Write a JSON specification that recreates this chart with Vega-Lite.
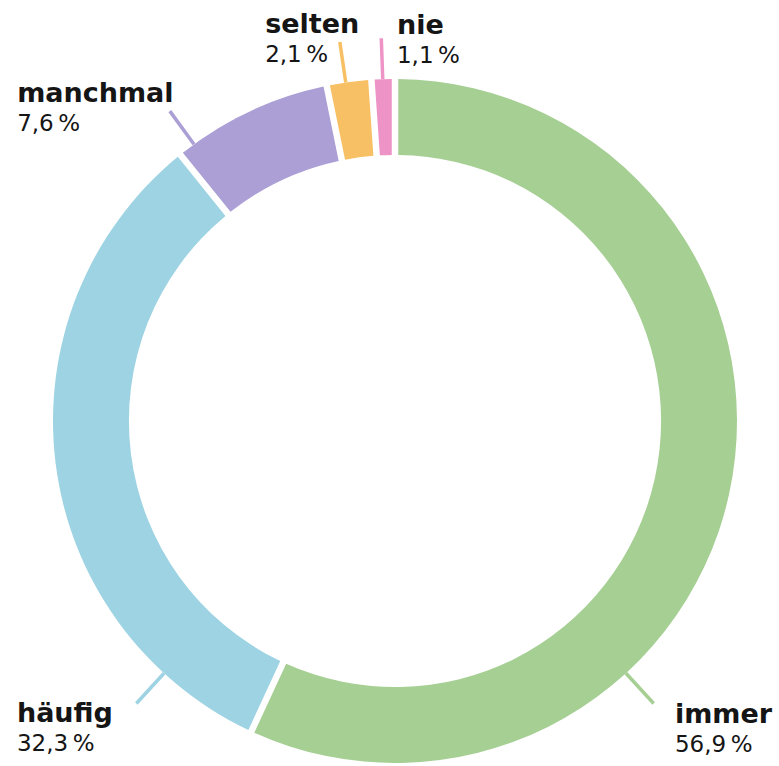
{
  "$schema": "https://vega.github.io/schema/vega-lite/v6.json",
  "width": 770,
  "height": 684,
  "autosize": {"type": "none"},
  "padding": {"left": 10, "top": 79, "right": 0, "bottom": 3},
  "background": "white",
  "config": {"view": {"stroke": null}},
  "data": {
    "values": [
      {"answer": "immer", "pct": 56.9, "idx": 1, "share": "56,9\u202f%", "at": 38.2, "lab_at": 38.1, "lab_r": 1.204},
      {"answer": "häufig", "pct": 32.3, "idx": 2, "share": "32,3\u202f%", "at": 61.8, "lab_at": 64.3, "lab_r": 1.413},
      {"answer": "manchmal", "pct": 7.6, "idx": 3, "share": "7,6\u202f%", "at": 90.0, "lab_at": 86.16, "lab_r": 1.446},
      {"answer": "selten", "pct": 2.1, "idx": 4, "share": "2,1\u202f%", "at": 97.7, "lab_at": 94.86, "lab_r": 1.1965},
      {"answer": "nie", "pct": 1.1, "idx": 5, "share": "1,1\u202f%", "at": 99.43, "lab_at": 0.08, "lab_r": 1.1316}
    ]
  },
  "layer": [
    {
      "mark": {"type": "arc", "padAngle": 0.015},
      "encoding": {
        "theta": {"field": "pct", "type": "quantitative", "stack": true, "scale": {"domain": [0, 100]}},
        "order": {"field": "idx", "type": "quantitative", "sort": "ascending"},
        "color": {
          "field": "answer", "type": "nominal", "legend": null,
          "scale": {"domain": ["immer", "häufig", "manchmal", "selten", "nie"], "range": ["#a6cf94", "#9dd3e3", "#ab9fd5", "#f8c064", "#ee93c6"]}
        },
        "radius": {"datum": 1, "type": "quantitative", "scale": {"type": "linear", "domain": [0, 1], "range": [0, 342]}},
        "radius2": {"datum": 0.778}
      }
    },
    {
      "mark": {"type": "arc", "filled": false, "strokeWidth": 3.5},
      "encoding": {
        "theta": {"field": "at", "type": "quantitative", "stack": null, "scale": {"domain": [0, 100]}},
        "theta2": {"field": "at"},
        "color": {
          "field": "answer", "type": "nominal", "legend": null,
          "scale": {"domain": ["immer", "häufig", "manchmal", "selten", "nie"], "range": ["#a6cf94", "#9dd3e3", "#ab9fd5", "#f8c064", "#ee93c6"]}
        },
        "radius": {"datum": 1.12, "type": "quantitative", "scale": {"type": "linear", "domain": [0, 1], "range": [0, 342]}},
        "radius2": {"datum": 1.0}
      }
    },
    {
      "mark": {"type": "text", "align": "left", "baseline": "alphabetic", "font": "DejaVu Sans", "fontWeight": "bold", "fontSize": 27, "color": "#151515"},
      "encoding": {
        "theta": {"field": "lab_at", "type": "quantitative", "stack": null, "scale": {"domain": [0, 100]}},
        "radius": {"field": "lab_r", "type": "quantitative", "scale": {"type": "linear", "domain": [0, 1], "range": [0, 342]}},
        "text": {"field": "answer"}
      }
    },
    {
      "mark": {"type": "text", "align": "left", "baseline": "alphabetic", "font": "DejaVu Sans", "fontSize": 23, "dy": 29, "color": "#151515"},
      "encoding": {
        "theta": {"field": "lab_at", "type": "quantitative", "stack": null, "scale": {"domain": [0, 100]}},
        "radius": {"field": "lab_r", "type": "quantitative", "scale": {"type": "linear", "domain": [0, 1], "range": [0, 342]}},
        "text": {"field": "share"}
      }
    }
  ]
}
